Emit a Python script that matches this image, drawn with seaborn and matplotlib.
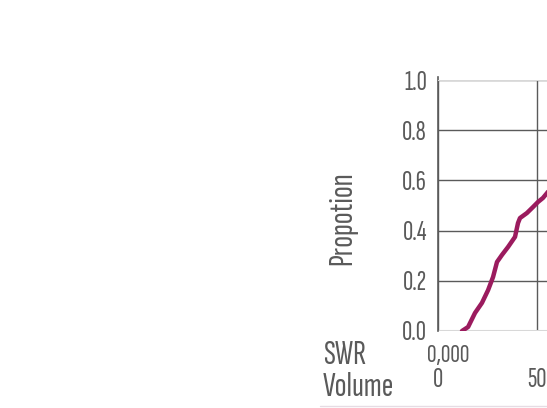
import numpy as np
import pandas as pd
import seaborn as sns
import matplotlib.pyplot as plt

# data
volume = [12.1, 15.2, 18.7, 22.2, 25.3, 27.8, 29.8, 32.3, 35.4, 38.9, 40.4, 41.4,
          44.9, 48.0, 50.5, 53.0, 55.1, 58.0, 62.0]
proportion = [0.0, 0.016, 0.072, 0.112, 0.163, 0.215, 0.275, 0.303, 0.335, 0.375, 0.43, 0.45,
              0.47, 0.494, 0.514, 0.53, 0.55, 0.58, 0.62]
y_ticks = [0.0, 0.2, 0.4, 0.6, 0.8, 1.0]
x_ticks = [0, 50]
swr_labels = ["0,000"]

sns.set_theme(style="white")
plt.rcParams['font.family'] = ['Sofia Sans Extra Condensed', 'DejaVu Sans']
plt.rcParams['font.weight'] = 'light'

grey = '#5a5a5a'
df = pd.DataFrame({'Volume': volume, 'Proportion': proportion})

fig = plt.figure(figsize=(5.47, 4.08), dpi=100)
# axes runs past the right edge of the figure, as in the cropped original
ax = fig.add_axes([438/547, 1-331/408, 118.8/547, 251/408])
sns.lineplot(data=df, x='Volume', y='Proportion', ax=ax, color='#9b1b5e', linewidth=3.2)

ax.set_xlim(0, 60)
ax.set_ylim(0, 1)
ax.set_yticks(y_ticks)
ax.set_yticklabels([f"{t:.1f}" for t in y_ticks], color=grey, fontsize=20.5)
ax.set_xticks(x_ticks)
ax.set_xticklabels([str(t) for t in x_ticks], color=grey, fontsize=20.5)
ax.tick_params(axis='x', length=24.5, width=1.2, color=grey, pad=2, direction='out')
ax.tick_params(axis='y', length=3, width=1.2, color=grey, pad=5)
ax.grid(axis='both', color=grey, linewidth=1.0)
for side in ['top', 'right', 'bottom']:
    ax.spines[side].set_visible(False)
ax.spines['left'].set_color(grey)
ax.spines['left'].set_linewidth(1.2)
ax.spines['left'].set_bounds(0, 1.01)
ax.axhline(1.0, color='#d8d8d8', linewidth=1.5, zorder=3)
ax.axhline(0.0, color='#d8d8d8', linewidth=1.5, zorder=1)
ax.set_xlabel('')
ax.set_ylabel('Propotion', color=grey, fontsize=25)
ax.yaxis.set_label_coords(-0.68, 0.45)

for i, lab in enumerate(swr_labels):
    ax.text(x_ticks[i] + 5.3, -0.097, lab, color=grey, fontsize=19,
            ha='center', va='center')

fig.text(323/547, 1-355/408, 'SWR', color=grey, fontsize=25, va='center')
fig.text(323/547, 1-387/408, 'Volume', color=grey, fontsize=25, va='center')
fig.add_artist(plt.Line2D([320/547, 1], [1-406/408, 1-406/408], color='#e6dce4', linewidth=1))

fig.savefig('out.png', dpi=100)
